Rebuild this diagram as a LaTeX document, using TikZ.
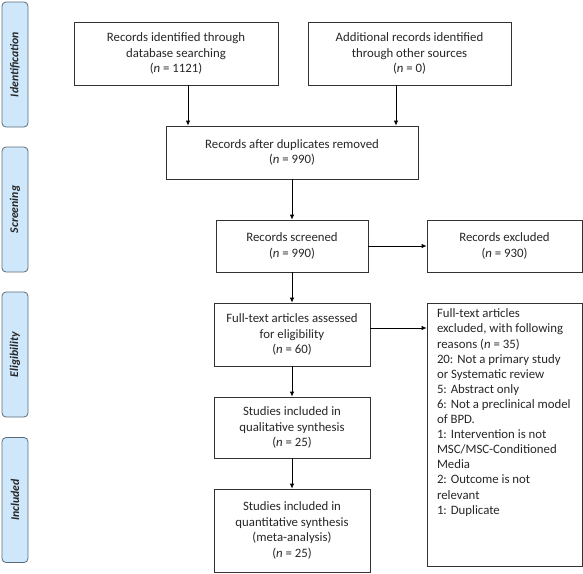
\documentclass[tikz,border=0pt]{standalone}
\usepackage{fontspec}
\setmainfont{Carlito}
\usetikzlibrary{arrows.meta}

\definecolor{phaseblue}{HTML}{CFE7FA}
\definecolor{phaseedge}{HTML}{5C6B78}
\tikzset{
	box/.style = {draw = black!80, line width = 0.8pt, align = center, inner sep = 0pt,
		font = \fontsize{12.8}{15.5}\selectfont, text = black!85},
	phase/.style = {draw = phaseedge, fill = phaseblue, line width = 0.8pt, rounded corners = 4pt,
		rotate = 90, minimum width = 125pt, minimum height = 26pt, inner sep = 0pt,
		font = \fontsize{11.8}{14}\selectfont\bfseries\itshape, text = black!85},
	arr/.style = {-{Latex[length = 5pt, width = 4.5pt]}, line width = 0.8pt}
}

\begin{document}
\begin{tikzpicture}[x = 1pt, y = -1pt]
	\useasboundingbox (0,0) rectangle (583,573);
	% phases
	\node[phase] (ident) at (15,64.5) {Identification};
	\node[phase] (screen) at (15,209.5) {Screening};
	\node[phase] (elig) at (15,354.5) {Eligibility};
	\node[phase] (incl) at (15,500) {Included};
	% identification
	\node[box, minimum width = 204pt, minimum height = 63pt] (db) at (176,53.5)
		{Records identified through\\database searching\\(\textit{n} = 1121)};
	\node[box, minimum width = 203pt, minimum height = 63pt] (other) at (409.5,53.5)
		{Additional records identified\\through other sources\\(\textit{n} = 0)};
	\node[box, minimum width = 252pt, minimum height = 53pt] (dup) at (292,152.5)
		{Records after duplicates removed\\(\textit{n} = 990)};
	% screening
	\node[box, minimum width = 152pt, minimum height = 52pt] (screened) at (292,246)
		{Records screened\\(\textit{n} = 990)};
	\node[box, minimum width = 155pt, minimum height = 52pt] (excl) at (504.5,246)
		{Records excluded\\(\textit{n} = 930)};
	% eligibility
	\node[box, minimum width = 156pt, minimum height = 63pt] (fulltext) at (292,334.5)
		{Full-text articles assessed\\for eligibility\\(\textit{n} = 60)};
	\node[box, inner xsep = 10pt, inner ysep = 6pt, font = \fontsize{12.8}{15.1}\selectfont] (ftexcl) at (504.5,434.5)
		{\parbox[c][251pt][t]{135pt}{\raggedright Full-text articles\\excluded, with following\\reasons (\textit{n} = 35)\\20: Not a primary study\\or Systematic review\\5: Abstract only\\6: Not a preclinical model\\of BPD.\\1: Intervention is not\\MSC/MSC-Conditioned\\Media\\2: Outcome is not\\relevant\\1: Duplicate}};
	% included
	\node[box, minimum width = 156pt, minimum height = 61pt] (qual) at (292,427.5)
		{Studies included in\\qualitative synthesis\\(\textit{n} = 25)};
	\node[box, minimum width = 156pt, minimum height = 83pt] (quant) at (292,530.5)
		{Studies included in\\quantitative synthesis\\(meta-analysis)\\(\textit{n} = 25)};
	% arrows
	\coordinate (inL) at ([xshift = -104pt]dup.north);
	\coordinate (inR) at ([xshift = 104pt]dup.north);
	\draw[arr] (db.south -| inL) -- (inL);
	\draw[arr] (other.south -| inR) -- (inR);
	\draw[arr] (dup.south) -- (screened.north);
	\draw[arr] (screened.east) -- (excl.west);
	\draw[arr] (screened.south) -- (fulltext.north);
	\draw[arr] ([yshift = 6.5pt]fulltext.east) -- ([yshift = 6.5pt]fulltext.east -| ftexcl.west);
	\draw[arr] (fulltext.south) -- (qual.north);
	\draw[arr] (qual.south) -- (quant.north);
\end{tikzpicture}
\end{document}
